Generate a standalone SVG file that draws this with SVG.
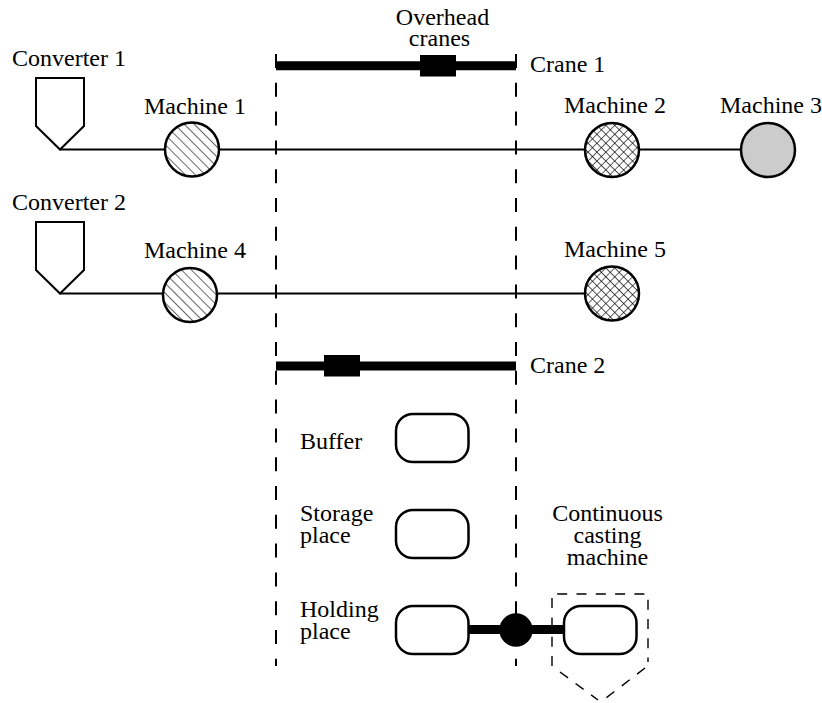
<svg xmlns="http://www.w3.org/2000/svg" width="822" height="703" viewBox="0 0 822 703">
<style>
text{font-family:"Liberation Serif","Times New Roman",serif;font-size:24px;fill:#000;text-anchor:middle}
.s{text-anchor:start}
.l{fill:none;stroke:#000;stroke-width:2}
.n{stroke:#000;stroke-width:2.500}
.r{fill:#fff;stroke:#000;stroke-width:2.500}
.b{fill:none;stroke:#000;stroke-width:9}
.d{fill:none;stroke:#000;stroke-width:2;stroke-dasharray:14 14.800}
.c{fill:none;stroke:#000;stroke-width:1.400;stroke-dasharray:10 9.300}
</style>
<defs>
<pattern id="h" width="7" height="7" patternUnits="userSpaceOnUse" patternTransform="rotate(-45)"><rect width="7" height="7" fill="#fff"/><line x1="0" y1="0" x2="0" y2="7" stroke="#000" stroke-width="1.200"/></pattern>
<pattern id="x" width="6.300" height="6.300" patternUnits="userSpaceOnUse" patternTransform="rotate(45)"><rect width="6.300" height="6.300" fill="#fff"/><path d="M0 0V6.300M0 0H6.300" stroke="#000" stroke-width="1.200" fill="none"/></pattern>
</defs>
<g id="connectors">
<path class="l" d="M60 149.500H742M60 293.500H586"/>
<path class="d" d="M276 54V666M516 54V666"/>
<path class="b" d="M276 65.800H516M276 366H516M468 629.500H565"/>
</g>
<g id="crane1"><rect x="420" y="55" width="36" height="21.500"/><text class="s" x="530" y="72">Crane 1</text></g>
<g id="crane2"><rect x="324" y="355" width="36" height="21.500"/><text class="s" x="530" y="373">Crane 2</text></g>
<g id="overhead"><text x="442.500" y="25">Overhead</text><text x="439.500" y="46">cranes</text></g>
<g id="converter1"><path class="l" d="M36 78H84V126L60 149.500L36 126Z"/><text class="s" x="12" y="65.500">Converter 1</text></g>
<g id="converter2"><path class="l" d="M36 222H84V270L60 293.500L36 270Z"/><text class="s" x="12" y="209.500">Converter 2</text></g>
<g id="machine1"><circle class="n" cx="192" cy="149.500" r="27" fill="url(#h)"/><text class="s" x="144" y="114">Machine 1</text></g>
<g id="machine2"><circle class="n" cx="612" cy="150" r="27" fill="url(#x)"/><text class="s" x="564" y="113">Machine 2</text></g>
<g id="machine3"><circle class="n" cx="768" cy="150" r="27" fill="#ccc"/><text class="s" x="720" y="113">Machine 3</text></g>
<g id="machine4"><circle class="n" cx="190" cy="295" r="27" fill="url(#h)"/><text class="s" x="144" y="258">Machine 4</text></g>
<g id="machine5"><circle class="n" cx="612" cy="293.500" r="27" fill="url(#x)"/><text class="s" x="564" y="257">Machine 5</text></g>
<g id="buffer"><rect class="r" x="396" y="414" width="72.500" height="48" rx="17"/><text class="s" x="300" y="449">Buffer</text></g>
<g id="storage"><rect class="r" x="396" y="510" width="72.500" height="48" rx="17"/><text class="s" x="300" y="521">Storage</text><text class="s" x="300" y="543">place</text></g>
<g id="holding"><rect class="r" x="396" y="606" width="72.500" height="48" rx="17"/><text class="s" x="300" y="617">Holding</text><text class="s" x="300" y="639">place</text></g>
<g id="junction"><circle cx="516" cy="630" r="16.700"/></g>
<g id="casting"><path class="c" d="M552 666V594H648V662M560 672L598 700M645 668L606 698"/><rect class="r" x="564" y="606" width="72.500" height="48" rx="17"/><text x="607.500" y="521">Continuous</text><text x="607.500" y="543">casting</text><text x="607.500" y="565">machine</text></g>
</svg>
